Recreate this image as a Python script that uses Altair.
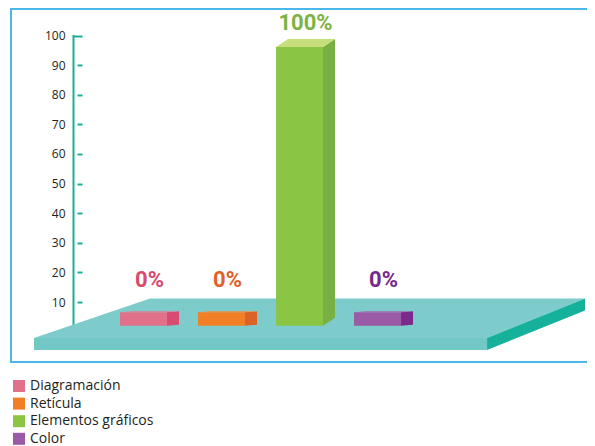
import altair as alt
import pandas as pd

# ---------------- data ----------------
categories = ["Diagramación", "Retícula", "Elementos gráficos", "Color"]
values = [0, 0, 100, 0]
axis_ticks = [10, 20, 30, 40, 50, 60, 70, 80, 90, 100]

# ---------------- style ----------------
front_colors = ["#e1718a", "#f27f26", "#8bc544", "#9b5aa5"]
side_colors = ["#d84c73", "#dc6327", "#78b043", "#7b2a8b"]
top_colors = ["#e57d95", "#f48c3c", "#c7de7d", "#a468ae"]
label_colors = ["#d94a6e", "#e06228", "#7cb342", "#76288a"]
TEAL = "#1aae96"
FLOOR_TOP, FLOOR_FRONT, FLOOR_SIDE = "#7dcccb", "#72c8c4", "#15b19b"
BORDER = "#4cb8ea"

W, H = 584, 353
XS = alt.Scale(domain=[-1.699, 5.788], nice=False, zero=False)
def ybar():
    return alt.Scale(domain=[0, 100], range=[316.7, 38], nice=False, zero=False)
def yaxis():
    return alt.Scale(domain=[2, 100], range=[316.7, 26.5], nice=False, zero=False)

HALF, DX, PX, MIN_T = 0.301, 0.154, 2.787, 4.8

# ---------------- derived tables ----------------
front, side, top, lab = [], [], [], []
for i, (c, v) in enumerate(zip(categories, values)):
    x1, x2 = i - HALF, i + HALF
    y1, y2 = 0.0, max(v, MIN_T)
    dy = (1 + 7 * v / 100) / PX
    front.append(dict(category=c, x1=x1, x2=x2, y1=y1, y2=y2))
    side.append(dict(category=c, col=side_colors[i], x=x2, lo=y1, hi=y2))
    side.append(dict(category=c, col=side_colors[i], x=x2 + DX, lo=y1 + dy, hi=y2 + dy))
    top.append(dict(category=c, col=top_colors[i], y=y2, xa=x1, xb=x2))
    top.append(dict(category=c, col=top_colors[i], y=y2 + dy, xa=x1 + DX, xb=x2 + DX))
    lab.append(dict(category=c, col=label_colors[i], x=i + DX / 2,
                    y=max(v + 6, 14), text=f"{v}%"))
front, side, top, lab = map(pd.DataFrame, (front, side, top, lab))

floor_top = pd.DataFrame(dict(y=[-4.41, 9.76], xa=[-1.404, 0.083], xb=[4.404, 5.66]))
floor_front = pd.DataFrame(dict(x1=[-1.404], x2=[4.404], y1=[-8.72], y2=[-4.41]))
floor_side = pd.DataFrame(dict(x=[4.404, 5.66], lo=[-8.72, 5.45], hi=[-4.41, 9.76]))
axis_df = pd.DataFrame(dict(v=[2, 100]))

# ---------------- layers ----------------
l_floor_top = alt.Chart(floor_top).mark_area(orient="horizontal", color=FLOOR_TOP).encode(
    y=alt.Y("y:Q", scale=ybar(), axis=None),
    x=alt.X("xa:Q", scale=XS, axis=None), x2="xb:Q")
l_floor_front = alt.Chart(floor_front).mark_rect(color=FLOOR_FRONT).encode(
    x=alt.X("x1:Q", scale=XS, axis=None), x2="x2:Q",
    y=alt.Y("y2:Q", scale=ybar(), axis=None), y2="y1:Q")
l_floor_side = alt.Chart(floor_side).mark_area(orient="vertical", color=FLOOR_SIDE).encode(
    x=alt.X("x:Q", scale=XS, axis=None),
    y=alt.Y("hi:Q", scale=ybar(), axis=None), y2="lo:Q")

l_side = alt.Chart(side).mark_area(orient="vertical").encode(
    x=alt.X("x:Q", scale=XS, axis=None),
    y=alt.Y("hi:Q", scale=ybar(), axis=None), y2="lo:Q",
    color=alt.Color("col:N", scale=None), detail="category:N")
l_top = alt.Chart(top).mark_area(orient="horizontal").encode(
    y=alt.Y("y:Q", scale=ybar(), axis=None),
    x=alt.X("xa:Q", scale=XS, axis=None), x2="xb:Q",
    color=alt.Color("col:N", scale=None), detail="category:N")
l_front = alt.Chart(front).mark_rect(opacity=1).encode(
    x=alt.X("x1:Q", scale=XS, axis=None), x2="x2:Q",
    y=alt.Y("y2:Q", scale=ybar(), axis=None), y2="y1:Q",
    color=alt.Color("category:N",
                    scale=alt.Scale(domain=categories, range=front_colors),
                    legend=alt.Legend(title=None, orient="none", legendX=1, legendY=370,
                                      direction="vertical", symbolType="square",
                                      symbolSize=144, symbolStrokeWidth=0, symbolOpacity=1,
                                      labelFontSize=14, labelFont="Open Sans",
                                      labelColor="#231f20", labelOffset=4,
                                      rowPadding=3.6, padding=0)))
l_lab = alt.Chart(lab).mark_text(font="Roboto", fontSize=22,
                                 fontWeight="bold", baseline="alphabetic",
                                 align="center").encode(
    x=alt.X("x:Q", scale=XS, axis=None),
    y=alt.Y("y:Q", scale=ybar(), axis=None),
    text="text:N", color=alt.Color("col:N", scale=None))

l_axis_left = alt.Chart(axis_df).mark_point(opacity=0).encode(
    y=alt.Y("v:Q", scale=yaxis(), title=None,
            axis=alt.Axis(orient="left", offset=-62, values=axis_ticks, domain=False,
                          ticks=False, tickSize=0, labelPadding=8, labelFontSize=12,
                          labelFont="Open Sans", labelColor="#231f20", grid=False)))
l_axis_right = alt.Chart(axis_df).mark_point(opacity=0).encode(
    y=alt.Y("v:Q", scale=yaxis(), title=None,
            axis=alt.Axis(orient="right", offset=-(W - 62), values=[2] + axis_ticks,
                          labels=False, domain=True, domainColor=TEAL, domainWidth=2,
                          domainCap="square", ticks=True, tickColor=TEAL, tickWidth=2,
                          tickSize=9, grid=False,
                          tickDash={"condition": {"test": "datum.value === 2 || datum.value === 100",
                                                  "value": [10, 0]},
                                    "value": [0, 4, 5, 10]})))

chart = alt.layer(
    l_floor_top, l_floor_front, l_floor_side,
    l_front, l_side, l_top, l_lab,
    l_axis_left, l_axis_right,
).resolve_scale(y="independent").resolve_axis(y="independent").properties(
    width=W, height=H,
    autosize=alt.AutoSizeParams(type="none"),
    padding={"left": 3, "top": 1, "right": -8, "bottom": 86},
).configure_view(stroke=BORDER, strokeWidth=2)

chart.save("out.html", embed_options={"renderer": "svg", "actions": False})
